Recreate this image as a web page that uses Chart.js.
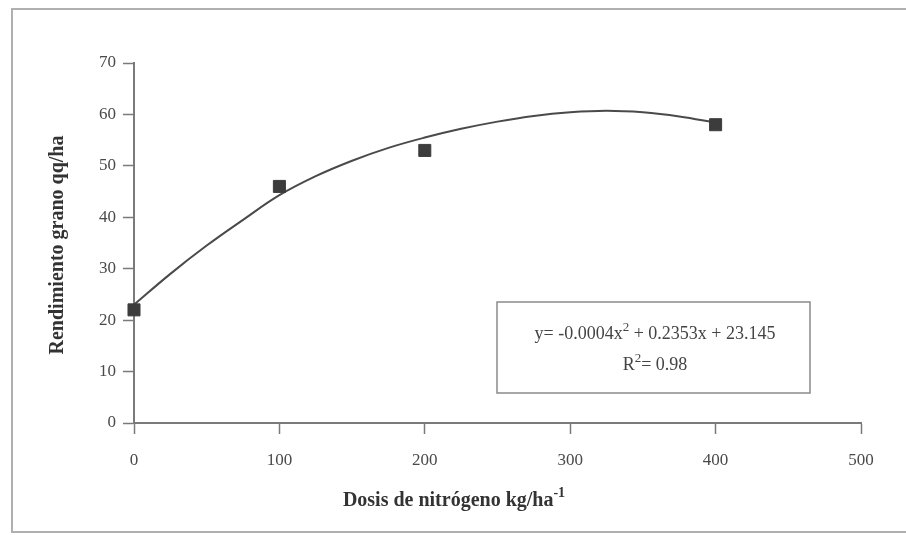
<!DOCTYPE html>
<html>
<head>
<meta charset="utf-8">
<script src="https://cdn.jsdelivr.net/npm/chart.js@4"></script>
<style>
  body { margin: 0; background: #fff; }
  #wrap { width: 906px; height: 535px; }
</style>
</head>
<body>
<div id="wrap"><canvas id="yieldChart" width="906" height="535"></canvas></div>
<script>
const doseX = [0, 100, 200, 400];
const yieldY = [22, 46, 53, 58];

// trend curve
const curveX = [0, 25, 50, 75, 100, 125, 150, 175, 200, 225, 250, 275, 300, 325, 350, 375, 400];
const curveY = [23, 29, 34.5, 39.5, 44.3, 48, 51, 53.5, 55.5, 57.2, 58.6, 59.7, 60.4, 60.7, 60.4, 59.6, 58.4];

const xTicks = [0, 100, 200, 300, 400, 500];
const yTicks = [0, 10, 20, 30, 40, 50, 60, 70];

const serif = '"Liberation Serif", "DejaVu Serif", serif';
const axisClr = '#7a7a7a';
const textClr = '#4a4a4a';

const extras = {
  id: 'extras',
  beforeDraw(chart) {
    const c = chart.ctx;
    c.save();
    c.fillStyle = '#fff';
    c.fillRect(0, 0, chart.width, chart.height);
    c.strokeStyle = '#b0b0b0';
    c.lineWidth = 2;
    c.strokeRect(12, 9, 920, 523);
    c.restore();
  },
  afterDraw(chart) {
    const c = chart.ctx;
    c.save();
    c.fillStyle = '#333';
    // y title
    c.font = 'bold 20px ' + serif;
    c.translate(58, 245);
    c.rotate(-Math.PI / 2);
    c.textAlign = 'center';
    c.textBaseline = 'middle';
    c.fillText('Rendimiento grano qq/ha', 0, 0);
    c.restore();

    // x title with superscript
    c.save();
    c.fillStyle = '#333';
    c.textBaseline = 'alphabetic';
    c.font = 'bold 20px ' + serif;
    const main = 'Dosis de nitrógeno kg/ha';
    const sup = '-1';
    const w1 = c.measureText(main).width;
    c.font = 'bold 14px ' + serif;
    const w2 = c.measureText(sup).width;
    let x0 = 454 - (w1 + w2) / 2;
    c.font = 'bold 20px ' + serif;
    c.fillText(main, x0, 506);
    c.font = 'bold 14px ' + serif;
    c.fillText(sup, x0 + w1, 497);
    c.restore();

    // equation box
    c.save();
    c.strokeStyle = '#8a8a8a';
    c.lineWidth = 1.5;
    c.strokeRect(497, 302, 313, 91);
    c.fillStyle = '#444';
    c.textBaseline = 'alphabetic';
    const parts1 = [['y= -0.0004x', 18, 0], ['2', 13, -8], [' + 0.2353x + 23.145', 18, 0]];
    const parts2 = [['R', 18, 0], ['2', 13, -8], ['= 0.98', 18, 0]];
    const drawParts = (parts, cx, by) => {
      let total = 0;
      parts.forEach(p => { c.font = p[1] + 'px ' + serif; total += c.measureText(p[0]).width; });
      let x = cx - total / 2;
      parts.forEach(p => {
        c.font = p[1] + 'px ' + serif;
        c.fillText(p[0], x, by + p[2]);
        x += c.measureText(p[0]).width;
      });
    };
    drawParts(parts1, 655, 339);
    drawParts(parts2, 655, 370);
    c.restore();
  }
};

const ctx = document.getElementById('yieldChart').getContext('2d');

const yieldChart = new Chart(ctx, {
  type: 'scatter',
  data: {
    datasets: [{
      label: 'Tendencia',
      data: curveX.map((x, i) => ({ x: x, y: curveY[i] })),
      showLine: true,
      borderColor: '#4a4a4a',
      borderWidth: 2,
      pointRadius: 0,
      tension: 0.4,
      clip: false,
      order: 2
    }, {
      label: 'Rendimiento',
      data: doseX.map((x, i) => ({ x: x, y: yieldY[i] })),
      pointStyle: 'rect',
      pointRadius: 8.5,
      backgroundColor: '#3c3c3c',
      borderColor: '#3c3c3c',
      borderWidth: 1,
      clip: false,
      order: 1
    }]
  },
  options: {
    responsive: false,
    animation: false,
    layout: {
      padding: { left: 0, top: 63, right: 45, bottom: 0 }
    },
    plugins: {
      legend: { display: false },
      tooltip: { enabled: false }
    },
    scales: {
      x: {
        type: 'linear',
        min: 0,
        max: 500,
        afterBuildTicks: s => { s.ticks = xTicks.map(v => ({ value: v })); },
        afterFit: s => { s.height = 112; },
        border: { color: axisClr, width: 2 },
        grid: { drawOnChartArea: false, tickLength: 11, color: axisClr, tickWidth: 1.5 },
        ticks: {
          color: textClr,
          padding: 16,
          font: { family: serif, size: 17 }
        }
      },
      y: {
        min: 0,
        max: 70,
        afterBuildTicks: s => { s.ticks = yTicks.map(v => ({ value: v })); },
        afterFit: s => { s.width = 134; },
        border: { color: axisClr, width: 2 },
        grid: { drawOnChartArea: false, tickLength: 11, color: axisClr, tickWidth: 1.5 },
        ticks: {
          color: textClr,
          padding: 7,
          font: { family: serif, size: 17 }
        }
      }
    }
  },
  plugins: [extras]
});
</script>
</body>
</html>
